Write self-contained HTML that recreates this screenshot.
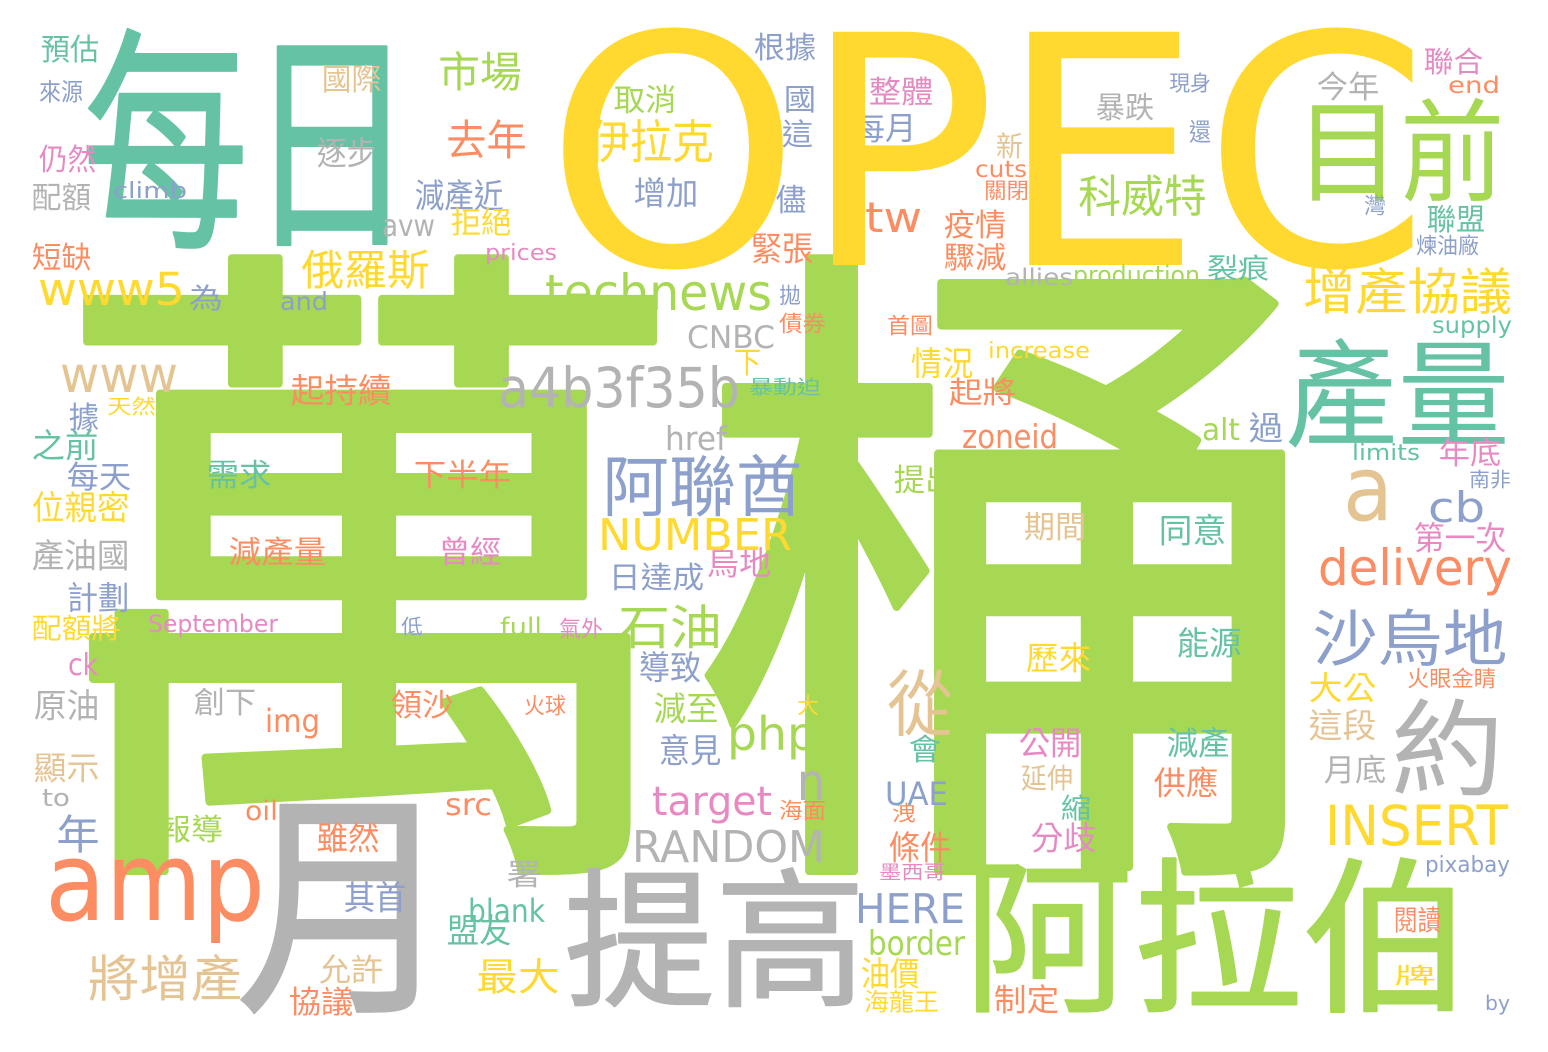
<!DOCTYPE html>
<html><head><meta charset="utf-8"><style>
html,body{margin:0;padding:0;background:#fff;}
svg{display:block}
.c{font-family:"Liberation Sans","Noto Sans CJK TC",sans-serif;}
.l{font-family:"DejaVu Sans","Liberation Sans",sans-serif;}
</style></head><body>
<svg id="cloud" width="1548" height="1052" xmlns="http://www.w3.org/2000/svg"><rect width="1548" height="1052" fill="#fff"/></svg>
<script>
const C={T:'#66c2a5',O:'#fc8d62',B:'#8da0cb',P:'#e78ac3',G:'#a6d854',Y:'#ffd92f',N:'#e5c494',R:'#b3b3b3'};
const cjkWords=[
['萬桶',75,265,1310,865,'G'],['每日',92,33,405,245,'T'],['月',245,795,445,1010,'R'],['提高',570,870,860,1005,'R'],
['阿拉伯',970,860,1465,1010,'G'],['產量',1290,340,1505,445,'T'],['目前',1300,100,1500,200,'G'],['約',1395,700,1500,795,'R'],
['從',890,670,950,735,'N'],['石油',620,605,720,648,'G'],['沙烏地',1315,610,1505,665,'B'],['阿聯酋',605,455,800,515,'B'],
['伊拉克',590,120,712,162,'Y'],['科威特',1080,175,1205,215,'G'],['增產協議',1305,268,1510,313,'Y'],['市場',440,52,520,90,'G'],
['去年',448,120,525,158,'O'],['俄羅斯',303,250,428,288,'Y'],['將增產',90,955,240,1000,'N'],['最大',478,958,558,993,'Y'],
['國際',323,65,380,92,'N'],['逐步',318,138,375,167,'R'],['預估',42,35,98,62,'T'],['來源',40,80,82,102,'B'],
['仍然',40,145,95,172,'P'],['配額',33,183,90,210,'R'],['短缺',33,243,90,270,'O'],['減產近',416,180,502,210,'B'],
['拒絕',452,208,510,235,'Y'],['取消',615,85,675,113,'G'],['增加',635,178,697,207,'B'],['根據',755,33,815,60,'B'],
['國',785,85,815,112,'B'],['這',783,120,812,147,'B'],['儘',777,185,805,213,'B'],['緊張',752,233,812,263,'O'],
['整體',870,77,932,105,'P'],['每月',855,113,915,142,'B'],['暴跌',1097,93,1153,120,'R'],['現身',1170,73,1210,92,'B'],
['今年',1318,72,1378,100,'R'],['聯合',1425,48,1482,74,'P'],['聯盟',1428,205,1484,232,'T'],['煉油廠',1417,235,1478,255,'B'],
['新',997,133,1022,158,'N'],['疫情',945,210,1005,238,'O'],['驟減',945,243,1005,270,'O'],['裂痕',1208,255,1268,280,'T'],
['首圖',888,315,932,335,'O'],['情況',912,348,972,378,'Y'],['起將',950,378,1015,405,'O'],['起持續',292,375,390,405,'O'],
['需求',208,460,270,488,'T'],['下半年',415,460,510,488,'O'],['減產量',230,537,325,565,'O'],['曾經',440,537,500,565,'P'],
['日達成',610,563,703,590,'B'],['烏地',708,548,770,577,'P'],['期間',1025,512,1085,540,'N'],['同意',1160,515,1225,545,'T'],
['歷來',1027,643,1090,672,'Y'],['能源',1178,628,1240,657,'T'],['公開',1020,728,1080,757,'P'],['減產',1168,728,1228,757,'T'],
['供應',1155,768,1217,797,'O'],['延伸',1022,765,1072,790,'N'],['縮',1062,795,1090,820,'T'],['分歧',1032,823,1095,852,'P'],
['條件',890,832,950,862,'O'],['會',910,735,940,762,'T'],['提出',895,465,955,493,'G'],['導致',640,652,700,682,'B'],
['減至',655,693,717,723,'G'],['意見',660,735,720,765,'B'],['創下',195,688,255,715,'R'],['領沙',392,690,452,718,'O'],
['雖然',318,823,378,852,'O'],['其首',345,882,405,912,'B'],['允許',320,955,382,983,'N'],['協議',290,987,352,1015,'O'],
['盟友',448,915,510,945,'T'],['署',508,860,540,887,'R'],['報導',160,815,222,842,'G'],['年',58,815,98,852,'B'],
['之前',33,430,97,460,'T'],['每天',68,462,130,490,'B'],['據',70,403,98,430,'B'],['天然',108,397,155,415,'Y'],
['位親密',33,492,128,522,'Y'],['產油國',33,540,128,570,'R'],['計劃',68,583,128,612,'B'],['配額將',33,615,120,640,'Y'],
['原油',35,690,98,720,'R'],['顯示',35,753,98,782,'N'],['油價',862,958,918,988,'Y'],['海龍王',865,990,938,1012,'Y'],
['墨西哥',880,863,945,880,'P'],['制定',995,985,1058,1013,'O'],['閱讀',1395,907,1440,932,'O'],['大公',1310,673,1375,702,'Y'],
['這段',1310,710,1375,740,'N'],['月底',1325,755,1385,783,'R'],['第一次',1415,523,1505,552,'P'],['年底',1440,438,1500,466,'P'],
['過',1250,413,1282,442,'B'],['南非',1470,470,1510,488,'B'],['火眼金睛',1408,668,1495,688,'O'],['大',798,695,818,715,'Y'],
['火球',525,695,565,715,'O'],['氣外',560,618,602,638,'P'],['低',402,617,422,635,'B'],['暴動迫',750,378,820,395,'T'],
['下',735,348,760,375,'Y'],['債券',780,313,825,333,'O'],['拋',780,285,800,305,'B'],['為',190,285,222,310,'B'],
['灣',1365,195,1385,215,'B'],['還',1190,120,1210,142,'B'],['關閉',985,180,1028,200,'O'],['海面',780,800,825,820,'O'],
['洩',893,803,915,822,'O'],['牌',1395,965,1435,985,'Y']
];
const latinWords=[
['OPEC',545,265,320,1430,'Y'],['amp',45,920,110,265,'O'],['a',1343,520,90,1393,'N'],['delivery',1318,585,50,1512,'O'],
['INSERT',1325,845,55,1508,'Y'],['RANDOM',632,862,44,825,'R'],['technews',545,310,50,772,'G'],['a4b3f35b',498,407,55,740,'R'],
['www5',38,305,45,185,'Y'],['www',60,392,50,178,'N'],['NUMBER',598,550,44,792,'Y'],['php',727,750,46,817,'G'],
['target',652,815,40,772,'P'],['cb',1428,522,42,1485,'B'],['n',797,800,52,825,'R'],['tw',865,232,42,922,'O'],
['HERE',855,923,41,965,'B'],['border',868,955,34,965,'G'],['blank',468,922,32,545,'T'],['UAE',885,805,32,948,'B'],
['zoneid',962,448,33,1058,'O'],['CNBC',687,348,31,775,'R'],['href',665,450,33,727,'R'],['alt',1202,440,30,1240,'G'],
['img',265,732,32,320,'O'],['src',445,815,30,492,'O'],['oil',245,820,27,278,'O'],['to',42,806,24,70,'R'],
['ck',68,675,30,98,'P'],['full',500,635,24,542,'G'],['September',148,632,24,278,'P'],['climb',113,198,22,187,'B'],
['avw',382,236,30,435,'R'],['prices',485,260,22,557,'P'],['and',280,310,25,328,'B'],['allies',1005,285,23,1073,'R'],
['production',1073,283,24,1200,'G'],['cuts',975,177,23,1027,'O'],['end',1448,93,23,1500,'O'],['supply',1432,333,23,1512,'T'],
['increase',988,358,22,1090,'Y'],['limits',1352,460,22,1420,'T'],['pixabay',1425,872,22,1510,'B'],['by',1485,1010,20,1510,'B']
];
const svg=document.getElementById('cloud');
const NS='http://www.w3.org/2000/svg';
cjkWords.forEach(w=>{
  const [t,x0,y0,x1,y1,c]=w;
  const s=(y1-y0)/0.9;
  const el=document.createElementNS(NS,'text');
  
  
  el.setAttribute('class','c');
  el.setAttribute('x',(x0-0.04*s).toFixed(1));
  el.setAttribute('y',(y1-0.07*s).toFixed(1));
  el.setAttribute('font-size',s.toFixed(1));
  el.setAttribute('fill',C[c]);
  if(s>120){el.setAttribute('stroke',C[c]);el.setAttribute('stroke-width',(s*0.012).toFixed(1));el.setAttribute('stroke-linejoin','round');}
  el.setAttribute('textLength',((x1-x0)+0.08*s).toFixed(1));
  el.setAttribute('lengthAdjust','spacingAndGlyphs');
  el.textContent=t;
  svg.appendChild(el);
});
latinWords.forEach(w=>{
  const [t,x0,base,s,x1,c]=w;
  const el=document.createElementNS(NS,'text');
  
  
  el.setAttribute('class','l');
  el.setAttribute('x',x0);
  el.setAttribute('y',base);
  el.setAttribute('font-size',s);
  el.setAttribute('fill',C[c]);
  el.setAttribute('textLength',x1-x0);
  el.setAttribute('lengthAdjust','spacingAndGlyphs');
  el.textContent=t;
  svg.appendChild(el);
});
</script>
</body></html>
